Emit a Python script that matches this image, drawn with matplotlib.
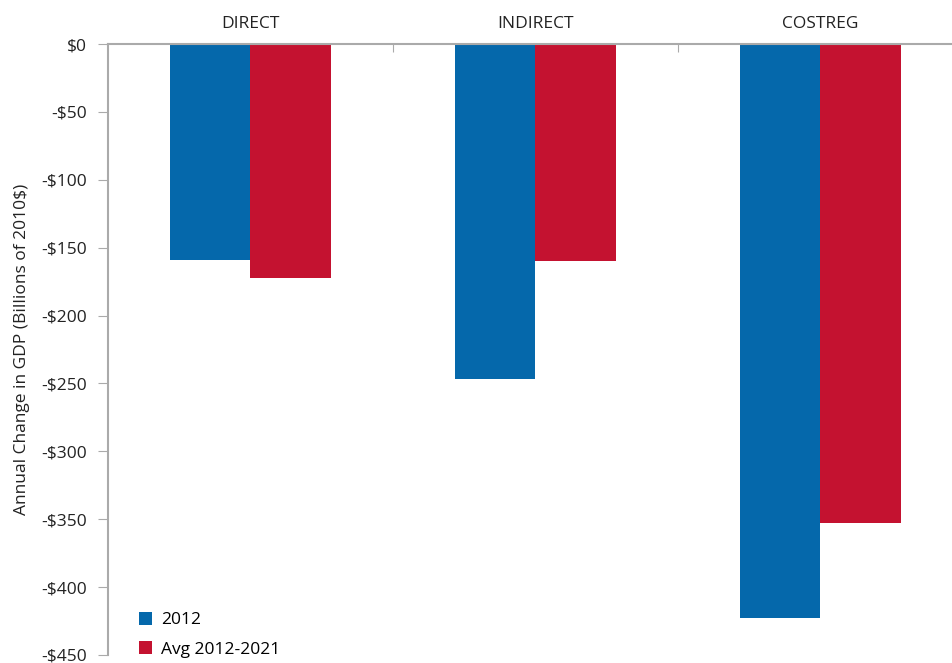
import numpy as np
import matplotlib.pyplot as plt
from matplotlib.ticker import FuncFormatter

plt.rcParams['font.family'] = ['Open Sans', 'DejaVu Sans']

categories = ['DIRECT', 'INDIRECT', 'COSTREG']
series_names = ['2012', 'Avg 2012-2021']
vals_2012 = [-159, -247, -423]
vals_avg = [-172, -160, -353]
colors = ['#0568ab', '#c41230']

fig = plt.figure(figsize=[9.53, 6.63], dpi=100)
ax = fig.add_axes([108/953, 1 - 655/663, (963 - 108)/953, (655 - 44)/663])

x = np.arange(len(categories))
w = 0.284
ax.bar(x - w/2, vals_2012, w, color=colors[0], label=series_names[0])
ax.bar(x + w/2, vals_avg, w, color=colors[1], label=series_names[1])

ax.set_xlim(-0.5, len(categories) - 0.5)
ax.set_ylim(-450, 0)
ax.set_yticks(np.arange(-450, 1, 50))
ax.yaxis.set_major_formatter(FuncFormatter(lambda v, p: ('-$%d' % -v) if v < 0 else '$%d' % v))

# category labels on top, boundary ticks pointing in
ax.xaxis.tick_top()
ax.set_xticks(x[:-1] + 0.5)
ax.set_xticklabels([])
ax.set_xticks(x, minor=True)
ax.set_xticklabels(categories, minor=True, fontsize=12.5, color='#222222')
ax.tick_params(axis='x', which='major', direction='in', length=6, color='#aaaaaa')
ax.tick_params(axis='x', which='minor', length=0, pad=9)
ax.tick_params(axis='y', direction='out', length=7, color='#aaaaaa', labelsize=12.5,
               labelcolor='#222222', pad=8)

for s in ['right', 'bottom']:
    ax.spines[s].set_visible(False)
for s in ['top', 'left']:
    ax.spines[s].set_color('#aaaaaa')
    ax.spines[s].set_linewidth(1.5)

ax.set_ylabel('Annual Change in GDP (Billions of 2010$)', fontsize=12.5, color='#222222', labelpad=8)

ax.legend(loc='lower left', bbox_to_anchor=(0.018, -0.03), frameon=False, fontsize=12.5,
          handlelength=0.75, handleheight=0.75, handletextpad=0.5, labelspacing=0.75)

plt.savefig('out.png', dpi=100)
